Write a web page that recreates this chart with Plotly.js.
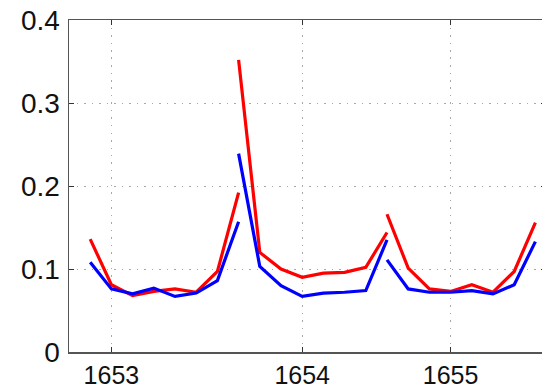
<!DOCTYPE html>
<html>
<head>
<meta charset="utf-8">
<script src="https://cdn.plot.ly/plotly-3.0.1.min.js"></script>
<style>
html,body{margin:0;padding:0;overflow:hidden;background:#fff;}
#chart{width:548px;height:389px;}
</style>
</head>
<body>
<div id="chart"></div>
<script>
// Data (x positions are sample indices; three segments share their end points)
var xSeg1 = [0, 1, 2, 3, 4, 5, 6, 7];
var xSeg2 = [7, 8, 9, 10, 11, 12, 13, 14];
var xSeg3 = [14, 15, 16, 17, 18, 19, 20, 21];

var redSeg1 = [0.136, 0.081, 0.068, 0.073, 0.076, 0.072, 0.097, 0.192];
var redSeg2 = [0.352, 0.120, 0.100, 0.090, 0.095, 0.096, 0.102, 0.144];
var redSeg3 = [0.166, 0.101, 0.076, 0.073, 0.081, 0.072, 0.097, 0.156];

var blueSeg1 = [0.108, 0.076, 0.070, 0.077, 0.067, 0.071, 0.086, 0.157];
var blueSeg2 = [0.239, 0.103, 0.080, 0.067, 0.071, 0.072, 0.074, 0.135];
var blueSeg3 = [0.111, 0.076, 0.072, 0.072, 0.074, 0.070, 0.081, 0.133];

var tickVals = [1, 10, 17];
var tickLabels = ['1653', '1654', '1655'];

function joinSegs(a, b, c) { return a.concat([null], b, [null], c); }

var traces = [
  {x: joinSegs(xSeg1, xSeg2, xSeg3), y: joinSegs(redSeg1, redSeg2, redSeg3),
   mode: 'lines', line: {color: '#ff0000', width: 3.2}, connectgaps: false, hoverinfo: 'none'},
  {x: joinSegs(xSeg1, xSeg2, xSeg3), y: joinSegs(blueSeg1, blueSeg2, blueSeg3),
   mode: 'lines', line: {color: '#0000ff', width: 3.2}, connectgaps: false, hoverinfo: 'none'}
];

var xFont = {family: 'Liberation Sans, Arial, sans-serif', size: 25, color: '#111'};
var yFont = {family: 'Liberation Sans, Arial, sans-serif', size: 28, color: '#111'};

var layout = {
  width: 548, height: 389,
  margin: {l: 69, r: 2, t: 20, b: 37},
  paper_bgcolor: '#fff', plot_bgcolor: '#fff',
  showlegend: false,
  xaxis: {
    range: [-1, 21.5], tickvals: tickVals, ticktext: tickLabels,
    showgrid: true, gridcolor: '#a8a8a8', griddash: '1.5px,6px', gridwidth: 1,
    zeroline: false, showline: true, linecolor: '#555', linewidth: 1.5, mirror: 'ticks',
    ticks: 'inside', ticklen: 5, tickcolor: '#333', tickwidth: 1,
    tickfont: xFont, ticklabelstandoff: 0
  },
  yaxis: {
    range: [0, 0.4], dtick: 0.1, tick0: 0,
    showgrid: true, gridcolor: '#a8a8a8', griddash: '1.5px,6px', gridwidth: 1,
    zeroline: false, showline: true, linecolor: '#555', linewidth: 1.5, mirror: 'ticks',
    ticks: 'inside', ticklen: 5, tickcolor: '#333', tickwidth: 1,
    tickfont: yFont, ticklabelstandoff: 2
  }
};

Plotly.newPlot('chart', traces, layout, {staticPlot: true, displayModeBar: false});
</script>
</body>
</html>
